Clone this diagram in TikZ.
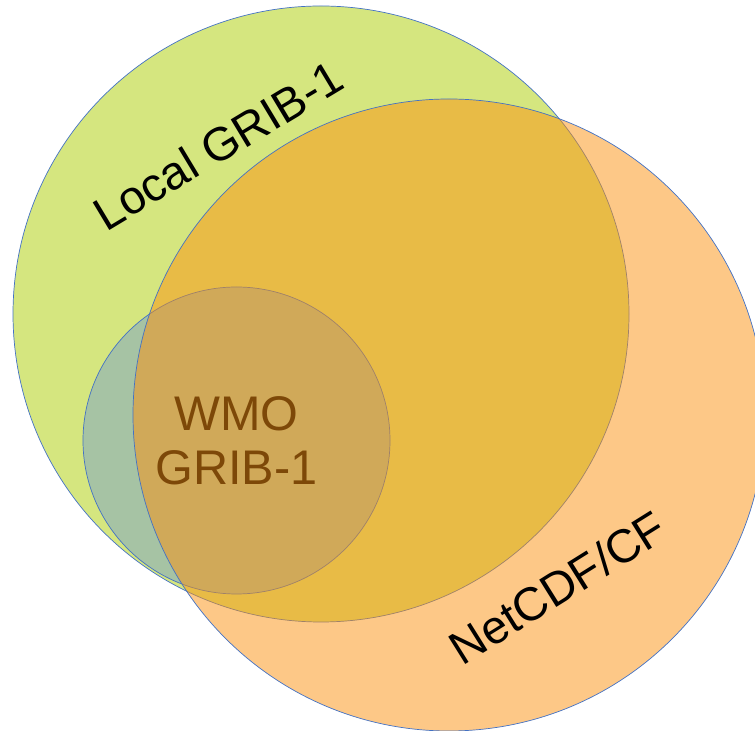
\documentclass[tikz,border=0pt]{standalone}
\usepackage{fontspec}
\setmainfont{Liberation Sans}
\usepackage{xcolor}
\usepackage{tikz}
\definecolor{localgreen}{RGB}{213,230,127}
\definecolor{netorange}{RGB}{251,145,15}
\definecolor{wmoblue}{RGB}{80,130,235}
\definecolor{edgeblue}{RGB}{68,114,196}
\definecolor{wmobrown}{RGB}{125,72,8}

\begin{document}
\begin{tikzpicture}[x=0.03cm,y=0.03cm,
    setedge/.style={draw=edgeblue,line width=0.6pt},
    setname/.style={font=\fontsize{40}{46}\selectfont,inner sep=0pt}]
  \useasboundingbox (0,0) rectangle (755,731);
  \clip (0,0) rectangle (755,731);
  % the three sets, pixel units with y counted from the bottom
  \coordinate (localc) at (321,417);
  \coordinate (netc) at (449,316);
  \coordinate (wmoc) at (236.5,290.5);
  \filldraw[setedge,fill=localgreen] (localc) circle[radius=308];
  \filldraw[setedge,fill=wmoblue,fill opacity=0.35] (wmoc) circle[radius=153.5];
  \filldraw[setedge,fill=netorange,fill opacity=0.5] (netc) circle[radius=316];
  % names of the sets
  \node[setname,rotate=31] (local) at (218,585.5) {Local GRIB-1};
  \node[setname,rotate=32] (netcdf) at (557.5,143.5) {NetCDF/CF};
  \node[setname,wmobrown,align=center,font=\fontsize{41.5}{46}\selectfont] (wmo) at (wmoc) {WMO\\GRIB-1};
\end{tikzpicture}
\end{document}
